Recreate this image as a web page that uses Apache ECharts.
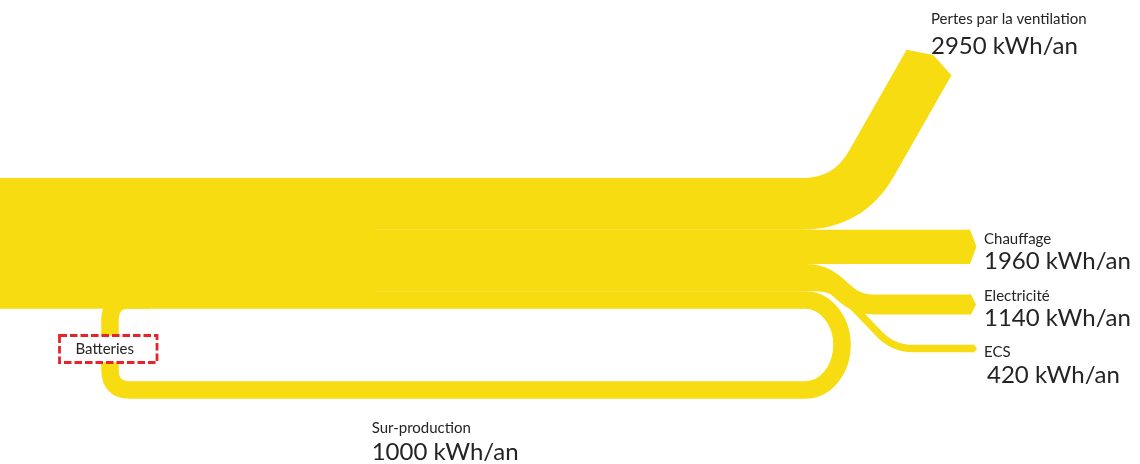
<!DOCTYPE html>
<html><head><meta charset="utf-8">
<script src="https://cdn.jsdelivr.net/npm/echarts@6/dist/echarts.min.js"></script>
<style>html,body{margin:0;padding:0;background:#fff}#chart{width:1140px;height:464px}</style>
</head><body><div id="chart"></div>
<script>
// ---- data ----
const flowNames = ['Pertes par la ventilation', 'Chauffage', 'Electricité', 'ECS', 'Sur-production'];
const flowValues = [2950, 1960, 1140, 420, 1000];
const unitLabel = 'kWh/an';
const storageName = 'Batteries';

// ---- style / layout ----
const YELLOW = '#F8DC12';
const TEXT = '#262323';
const KWH_PER_PX = 57.1;
const TOP_PX = 178;
const yMin = -TOP_PX * KWH_PER_PX;
const yMax = (464 - TOP_PX) * KWH_PER_PX;
const SPLIT_X = 375;
const FONT_S = '15px Lato';
const FONT_L = '24px Lato';

const total = flowValues.reduce((a, b) => a + b, 0);
const cumStart = flowValues.map((v, i) => flowValues.slice(0, i).reduce((a, b) => a + b, 0));

function f(n) { return n.toFixed(2); }

function txt(text, x, y, font) {
  return { type: 'text', silent: true, style: { text: text, x: x, y: y, fill: TEXT, font: font, align: 'left', verticalAlign: 'middle' } };
}
function band(path, t) {
  return { type: 'path', silent: true, shape: { pathData: path }, style: { fill: null, stroke: YELLOW, lineWidth: t, lineCap: 'butt', lineJoin: 'round' } };
}
function poly(points) {
  return { type: 'polygon', silent: true, shape: { points: points }, style: { fill: YELLOW } };
}
function hArrow(xe, yc, t, tip) {
  return poly([[xe - 1, yc - t / 2], [xe, yc - t / 2], [xe + tip, yc], [xe, yc + t / 2], [xe - 1, yc + t / 2]]);
}

function route(i, yc, t, name, valText) {
  const els = [];
  if (i === 0) {
    const E = [929, 62.5], d = [0.495, -0.869], n = [0.869, 0.495];
    const s = (yc - E[1]) / 0.869;
    const C = [E[0] - d[0] * s, yc];
    const L = 46.5;
    const p1 = [C[0] - L, yc], p2 = [C[0] + d[0] * L, yc + d[1] * L];
    els.push(band(`M ${SPLIT_X} ${f(yc)} L ${f(p1[0])} ${f(yc)} Q ${f(C[0])} ${f(C[1])} ${f(p2[0])} ${f(p2[1])} L ${E[0]} ${E[1]}`, t));
    const h = t / 2, tip = 8.5;
    els.push(poly([
      [E[0] - n[0] * h - d[0], E[1] - n[1] * h - d[1]],
      [E[0] - n[0] * h, E[1] - n[1] * h],
      [E[0] + d[0] * tip, E[1] + d[1] * tip],
      [E[0] + n[0] * h, E[1] + n[1] * h],
      [E[0] + n[0] * h - d[0], E[1] + n[1] * h - d[1]]
    ]));
    els.push(txt(name, 931, 19.5, FONT_S));
    els.push(txt(valText, 931, 46, FONT_L));
  } else if (i === 1) {
    els.push(band(`M ${SPLIT_X} ${f(yc)} L 970 ${f(yc)}`, t));
    els.push(hArrow(970, yc, t, 6.5));
    els.push(txt(name, 984, 238.8, FONT_S));
    els.push(txt(valText, 984, 261.3, FONT_L));
  } else if (i === 2) {
    const ye = 304.5;
    els.push(band(`M ${SPLIT_X} ${f(yc)} L 805 ${f(yc)} C 842 ${f(yc)} 838 ${ye} 875 ${ye} L 971 ${ye}`, t));
    els.push(hArrow(971, ye, t, 5));
    els.push(txt(name, 984, 296.2, FONT_S));
    els.push(txt(valText, 984, 318, FONT_L));
  } else if (i === 3) {
    const ye = 348.5;
    const c1 = [835, yc], c2 = [893, ye];
    const dx = c2[0] - c1[0], dy = c2[1] - c1[1], len = Math.hypot(dx, dy);
    const u = [dx / len, dy / len], r = 20;
    els.push(band(`M ${SPLIT_X} ${f(yc)} L ${c1[0] - r} ${f(yc)} Q ${c1[0]} ${f(yc)} ${f(c1[0] + u[0] * r)} ${f(c1[1] + u[1] * r)} L ${f(c2[0] - u[0] * r)} ${f(c2[1] - u[1] * r)} Q ${c2[0]} ${ye} ${c2[0] + r} ${ye} L 974 ${ye}`, t));
    els.push(hArrow(974, ye, t, 3));
    els.push(txt(name, 984, 352.2, FONT_S));
    els.push(txt(valText, 987, 375.3, FONT_L));
  } else if (i === 4) {
    const yb = 390, cx = 805, rx = 37, k = 0.5523;
    const cy = (yc + yb) / 2, ry = (yb - yc) / 2;
    const p = `M ${SPLIT_X} ${f(yc)} L ${cx} ${f(yc)} ` +
      `C ${f(cx + k * rx)} ${f(yc)} ${cx + rx} ${f(cy - k * ry)} ${cx + rx} ${f(cy)} ` +
      `C ${cx + rx} ${f(cy + k * ry)} ${f(cx + k * rx)} ${yb} ${cx} ${yb} ` +
      `L 130 ${yb} Q 110 ${yb} 110 ${yb - 20} L 110 ${f(yc + 20)} Q 110 ${f(yc)} 130 ${f(yc)} L 150 ${f(yc)}`;
    els.push(band(p, t));
    els.push(txt(name, 371.7, 428.2, FONT_S));
    els.push(txt(valText, 371.7, 452, FONT_L));
  }
  return els;
}

const chart = echarts.init(document.getElementById('chart'), null, { renderer: 'canvas' });
chart.setOption({
  animation: false,
  backgroundColor: '#ffffff',
  grid: { left: 0, right: 0, top: 0, bottom: 0 },
  xAxis: { type: 'value', min: 0, max: 1140, show: false },
  yAxis: { type: 'value', min: yMin, max: yMax, inverse: true, show: false },
  series: [
    {
      type: 'custom',
      coordinateSystem: 'cartesian2d',
      silent: true,
      data: [[0, total]],
      renderItem: function (params, api) {
        const top = api.coord([0, 0]);
        const bot = api.coord([SPLIT_X, api.value(1)]);
        return { type: 'rect', shape: { x: top[0], y: top[1], width: bot[0] - top[0] + 0.5, height: bot[1] - top[1] }, style: { fill: YELLOW } };
      }
    },
    {
      type: 'custom',
      coordinateSystem: 'cartesian2d',
      silent: true,
      data: flowValues.map((v, i) => [i, v, cumStart[i]]),
      renderItem: function (params, api) {
        const i = api.value(0), v = api.value(1), s = api.value(2);
        const yc = api.coord([0, s + v / 2])[1];
        const t = api.size([0, v])[1];
        return { type: 'group', children: route(i, yc, t, flowNames[i], v + ' ' + unitLabel) };
      }
    },
    {
      type: 'custom',
      coordinateSystem: 'cartesian2d',
      silent: true,
      data: [[0]],
      renderItem: function () {
        return {
          type: 'group', children: [
            { type: 'rect', shape: { x: 59.5, y: 335.5, width: 97.5, height: 27 }, style: { fill: '#ffffff', stroke: '#E8222B', lineWidth: 2.8, lineDash: [7.5, 3] } },
            txt(storageName, 75.5, 349.3, FONT_S)
          ]
        };
      }
    }
  ]
});
</script>
</body></html>
